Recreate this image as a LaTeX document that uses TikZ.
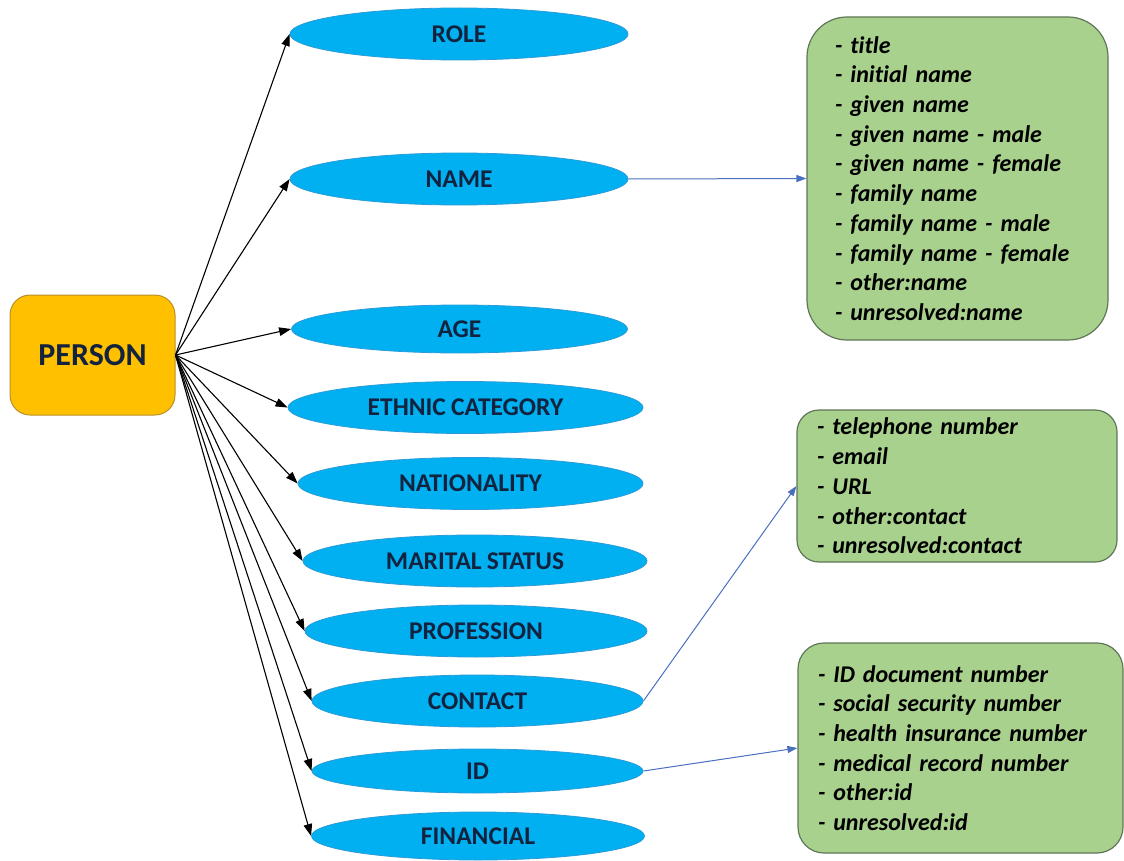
\documentclass[tikz,border=0pt]{standalone}
\usepackage{fontspec}
\setmainfont{Carlito}[Ligatures=NoCommon]
\usetikzlibrary{shapes.geometric,arrows.meta}

\definecolor{personfill}{HTML}{FFC000}
\definecolor{persondraw}{HTML}{B8902A}
\definecolor{entfill}{HTML}{00B0F0}
\definecolor{entdraw}{HTML}{2A9BD8}
\definecolor{enttext}{HTML}{13233F}
\definecolor{listfill}{HTML}{A9D18E}
\definecolor{listdraw}{HTML}{5F7657}
\definecolor{linkblue}{HTML}{4A6FBF}

\newcommand\entfont{\fontsize{25.5}{30}\selectfont\bfseries\spaceskip=0.2em\relax}
\newcommand\listfont{\fontsize{24}{29.7}\selectfont\bfseries\itshape\spaceskip=0.17em\relax}

\tikzset{
  person/.style={draw=persondraw, line width=1pt, fill=personfill, rounded corners=20pt,
    minimum width=165pt, minimum height=120pt, inner sep=0pt,
    font=\fontsize{32}{36}\selectfont\bfseries, text=enttext},
  ent/.style={ellipse, draw=entdraw, line width=0.8pt, fill=entfill, inner sep=0pt,
    minimum height=52pt, font=\entfont, text=enttext},
  listbox/.style={draw=listdraw, line width=1.2pt, fill=listfill, align=left,
    inner ysep=0pt, font=\listfont, text=black},
  fanarrow/.style={draw=black, line width=1.1pt, -{Triangle[length=12pt,width=8.5pt]}},
  linkarrow/.style={draw=linkblue, line width=1pt, -{Triangle[length=10pt,width=7pt]}}
}

\begin{document}
\begin{tikzpicture}[x=1pt, y=-1pt]
  \useasboundingbox (0,0) rectangle (1124,861);

  % central entity
  \node[person] (person) at (92.5,355) {PERSON};

  % attribute ellipses
  \node[ent, minimum width=338pt]                    (role)        at (459,34)    {ROLE};
  \node[ent, minimum width=338pt]                    (name)        at (459,179)   {NAME};
  \node[ent, minimum width=336pt, minimum height=48pt] (age)       at (459.5,329) {AGE};
  \node[ent, minimum width=355pt]                    (ethnic)      at (465.5,407.5) {ETHNIC CATEGORY};
  \node[ent, minimum width=345pt]                    (nationality) at (470.5,483.5) {NATIONALITY};
  \node[ent, minimum width=344pt]                    (marital)     at (475,561)   {MARITAL STATUS};
  \node[ent, minimum width=342pt]                    (profession)  at (476,631)   {PROFESSION};
  \node[ent, minimum width=331pt]                    (contact)     at (477.5,701) {CONTACT};
  \node[ent, minimum width=331pt, minimum height=44pt] (id)        at (477.5,771) {ID};
  \node[ent, minimum width=333pt, minimum height=48pt] (financial) at (478,836)   {FINANCIAL};

  % value lists
  \node[listbox, rounded corners=40pt, text width=245pt, inner xsep=28pt, minimum height=323pt]
    (names) at (957.5,178.5) {%
    - title\\
    - initial name\\
    - given name\\
    - given name - male\\
    - given name - female\\
    - family name\\
    - family name - male\\
    - family name - female\\
    - other:name\\
    - unresolved:name};

  \node[listbox, rounded corners=22pt, text width=280pt, inner xsep=20pt, minimum height=152pt]
    (contacts) at (957,486) {%
    - telephone number\\
    - email\\
    - URL\\
    - other:contact\\
    - unresolved:contact};

  \node[listbox, rounded corners=26pt, text width=285pt, inner xsep=20pt, minimum height=210pt]
    (ids) at (960.5,748) {%
    - ID document number\\
    - social security number\\
    - health insurance number\\
    - medical record number\\
    - other:id\\
    - unresolved:id};

  % fan of arrows from the entity to its attributes
  \foreach \t in {role,name,age,ethnic,nationality,marital,profession,contact,id,financial}
    \draw[fanarrow] (person.east) -- (\t.west);

  % links from attributes to their value lists
  \draw[linkarrow] (name.east) -- (names.west);
  \draw[linkarrow] (contact.east) -- (contacts.west);
  \draw[linkarrow] (id.east) -- (ids.west);
\end{tikzpicture}
\end{document}
